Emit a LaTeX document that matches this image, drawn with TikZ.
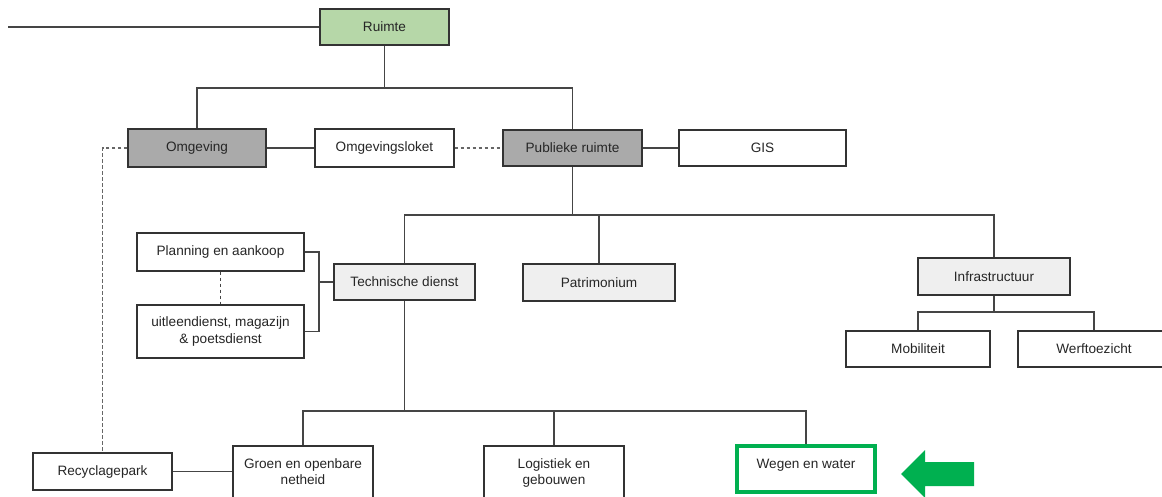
\documentclass[tikz,border=0pt]{standalone}
\usepackage{fontspec}
\setmainfont{Liberation Sans}
\definecolor{bordc}{HTML}{333333}
\definecolor{linec}{HTML}{454545}
\definecolor{dashc}{HTML}{666666}
\definecolor{textc}{HTML}{262626}
\definecolor{ruimtegreen}{HTML}{B6D7A8}
\definecolor{darkgrey}{HTML}{AAAAAA}
\definecolor{lightgrey}{HTML}{EFEFEF}
\definecolor{brightgreen}{HTML}{00B050}
\begin{document}
\begin{tikzpicture}[x=1pt,y=-1pt,
  box/.style={draw=bordc, line width=1.2pt, inner sep=0pt, fill=white,
    font=\fontsize{13.6}{16.5}\selectfont, text=textc, align=center},
  conn/.style={draw=linec, line width=1.3pt},
  dconn/.style={draw=dashc, line width=1.3pt, dash pattern=on 3.5pt off 2.5pt}]
\useasboundingbox (0,0) rectangle (1162,496);
\clip (0,0) rectangle (1162,496);
% nodes
\node[box, fill=ruimtegreen, minimum width=129pt, minimum height=36pt] (ruimte) at (384.5,27) {Ruimte};
\node[box, fill=darkgrey, minimum width=138pt, minimum height=38pt] (omg) at (197,148) {Omgeving};
\node[box, minimum width=139pt, minimum height=38pt] (loket) at (384.5,148) {Omgevingsloket};
\node[box, fill=darkgrey, minimum width=139pt, minimum height=36pt] (pub) at (572.5,148) {Publieke ruimte};
\node[box, minimum width=167pt, minimum height=36pt] (gis) at (762.5,148) {GIS};
\node[box, minimum width=167pt, minimum height=38pt] (plan) at (220.5,252) {Planning en aankoop};
\node[box, minimum width=167pt, minimum height=53pt] (uit) at (220.5,331.5) {uitleendienst, magazijn\\\& poetsdienst};
\node[box, fill=lightgrey, minimum width=141pt, minimum height=36pt] (tech) at (404.5,282) {Technische dienst};
\node[box, fill=lightgrey, minimum width=152pt, minimum height=37pt] (patr) at (599,282.5) {Patrimonium};
\node[box, fill=lightgrey, minimum width=152pt, minimum height=37pt] (infra) at (994,276.5) {Infrastructuur};
\node[box, minimum width=144pt, minimum height=36pt] (mob) at (918,349) {Mobiliteit};
\node[box, minimum width=152pt, minimum height=36pt] (werf) at (1094,349) {Werftoezicht};
\node[box, minimum width=139pt, minimum height=37pt] (recy) at (102.5,471.5) {Recyclagepark};
\node[box, minimum width=140pt] (groen) at (303,476)
  {\parbox[c][60pt][t]{138pt}{\centering\rule{0pt}{22pt}Groen en openbare\\netheid}};
\node[box, minimum width=140pt] (logi) at (554,476)
  {\parbox[c][60pt][t]{138pt}{\centering\rule{0pt}{22pt}Logistiek en\\gebouwen}};
\node[box, draw=brightgreen, line width=4pt, minimum width=138pt] (wegen) at (806,469)
  {\parbox[c][46pt][t]{136pt}{\centering\rule{0pt}{22pt}Wegen en water}};
% connectors
\coordinate (lstart) at (8,27);
\draw[conn] (lstart) -- (ruimte.west);
\coordinate (b1) at (384.5,88);
\draw[conn] (ruimte.south) -- (b1);
\draw[conn] (omg.north) |- (b1) -| (pub.north);
\draw[conn] (omg.east) -- (loket.west);
\draw[dconn] (loket.east) -- (pub.west);
\draw[conn] (pub.east) -- (gis.west);
\draw[dconn] (omg.west) -| (recy.north);
\coordinate (b2) at (572.5,215);
\draw[conn] (pub.south) -- (b2);
\draw[conn] (tech.north) |- (b2) -| (infra.north);
\draw[conn] (patr.north) -- (patr.north |- b2);
\coordinate (b3) at (319,282);
\draw[conn] (plan.east) -| (b3) |- (uit.east);
\draw[conn] (tech.west) -- (b3);
\draw[dconn, draw=linec] (plan.south) -- (uit.north);
\coordinate (b4) at (404.5,411);
\draw[conn] (tech.south) -- (b4);
\draw[conn] (groen.north) |- (b4) -| (wegen.north);
\draw[conn] (logi.north) -- (logi.north |- b4);
\coordinate (b5) at (994,312);
\draw[conn] (infra.south) -- (b5);
\draw[conn] (mob.north) |- (b5) -| (werf.north);
\draw[conn] (recy.east) -- (recy.east -| groen.west);
% green arrow
\fill[brightgreen] (901,474) -- (925,450) -- (925,462) -- (974,462) -- (974,486) -- (925,486) -- (925,498) -- cycle;
\end{tikzpicture}
\end{document}
